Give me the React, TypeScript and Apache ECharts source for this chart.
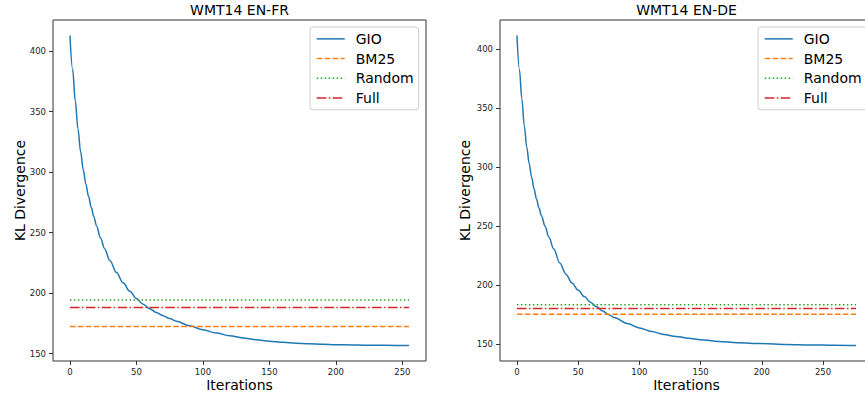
import React, { useEffect, useRef } from "react";
import * as echarts from "echarts";

const FONT = "DejaVu Sans";

const seriesNames = ["GIO", "BM25", "Random", "Full"];
const xTickValues = [0, 50, 100, 150, 200, 250];
const yTickValues = [150, 200, 250, 300, 350, 400];

// WMT14 EN-FR
const frIters = [0, 2, 4, 6, 8, 10, 12, 14, 16, 18, 20, 23, 26, 30, 35, 40, 45, 50, 55, 60, 65, 70, 75, 80, 90, 100, 110, 120, 130, 140, 150, 160, 170, 180, 190, 200, 215, 230, 245, 255];
const frGio = [413, 385, 359, 336, 317, 302, 290, 280, 271, 263, 255.5, 245.5, 237, 227, 217, 208.5, 201.5, 195.5, 190.8, 187, 184, 181.3, 179, 176.8, 173, 169.8, 167, 164.8, 163, 161.5, 160.3, 159.3, 158.6, 158.1, 157.7, 157.4, 157.1, 156.9, 156.8, 156.7];
const frBm25 = 172.4;
const frRandom = 194.3;
const frFull = 188.2;

// WMT14 EN-DE
const deIters = [0, 2, 4, 6, 8, 10, 12, 14, 16, 18, 20, 23, 26, 30, 35, 40, 45, 50, 55, 60, 65, 70, 75, 80, 90, 100, 110, 120, 130, 140, 150, 165, 180, 200, 220, 240, 260, 277];
const deGio = [411.5, 383, 358, 335, 317, 303, 291.5, 281.5, 273, 265.5, 259, 250, 241, 231, 219, 209.5, 202, 196, 190.5, 185.8, 181.8, 178.3, 175.2, 172.5, 167.8, 164, 161, 158.5, 156.8, 155.3, 154, 152.5, 151.5, 150.7, 150, 149.6, 149.3, 149.1];
const deBm25 = 175.5;
const deRandom = 183.5;
const deFull = 180.4;

const COLORS = { GIO: "#1f77b4", BM25: "#ff7f0e", Random: "#2ca02c", Full: "#d62728" };
const DASH = { BM25: [5.55, 2.4], Random: [1.5, 2.475], Full: [9.6, 2.4, 1.5, 2.4] };

function extent(vals: number[]) {
  const mn = Math.min(...vals);
  const mx = Math.max(...vals);
  const m = (mx - mn) * 0.05;
  return [mn - m, mx + m];
}

export default function App() {
  const ref = useRef<HTMLDivElement>(null);
  useEffect(() => {
    if (!ref.current) return;
    const chart = echarts.init(ref.current, undefined, { renderer: "svg" });

    const panels = [
      { title: "WMT14 EN-FR", iters: frIters, gio: frGio, bm25: frBm25, random: frRandom, full: frFull, left: 53, nameGap: 26 },
      { title: "WMT14 EN-DE", iters: deIters, gio: deGio, bm25: deBm25, random: deRandom, full: deFull, left: 500, nameGap: 28 },
    ];
    const gridW = 373;
    const gridH = 341;

    const grids: any[] = [];
    const xAxes: any[] = [];
    const yAxes: any[] = [];
    const series: any[] = [];
    const titles: any[] = [];
    const legends: any[] = [];

    panels.forEach((p, i) => {
      grids.push({
        left: p.left, top: 20, width: gridW, height: gridH, show: true,
        borderColor: "#333", borderWidth: 1, backgroundColor: "transparent",
        containLabel: false, outerBoundsMode: "none",
      });
      const xe = extent(p.iters);
      const ye = extent([...p.gio, p.bm25, p.random, p.full]);
      const tickLabel = { fontSize: 8.5, color: "#222", fontFamily: FONT };
      xAxes.push({
        type: "value", gridIndex: i, min: xe[0], max: xe[1],
        name: "Iterations", nameLocation: "middle", nameGap: 17, nameMoveOverlap: false,
        nameTextStyle: { fontSize: 14, color: "#000", fontFamily: FONT },
        axisLine: { show: false, onZero: false },
        axisTick: { show: true, length: 4, lineStyle: { color: "#333", width: 1 }, customValues: xTickValues },
        axisLabel: { ...tickLabel, margin: 6, customValues: xTickValues },
        splitLine: { show: false },
      });
      yAxes.push({
        type: "value", gridIndex: i, min: ye[0], max: ye[1],
        name: "KL Divergence", nameLocation: "middle", nameGap: p.nameGap, nameMoveOverlap: false,
        nameTextStyle: { fontSize: 14, color: "#000", fontFamily: FONT },
        axisLine: { show: false, onZero: false },
        axisTick: { show: true, length: 4, lineStyle: { color: "#333", width: 1 }, customValues: yTickValues },
        axisLabel: { ...tickLabel, margin: 7, customValues: yTickValues },
        splitLine: { show: false },
      });
      const x0 = p.iters[0];
      const x1 = p.iters[p.iters.length - 1];
      series.push({
        name: "GIO", type: "line", xAxisIndex: i, yAxisIndex: i, symbol: "none",
        smooth: 0.35, smoothMonotone: "x",
        data: p.iters.map((x, k) => [x, p.gio[k]]),
        lineStyle: { color: COLORS.GIO, width: 1.5 }, itemStyle: { color: COLORS.GIO },
      });
      const flat: [string, number][] = [["BM25", p.bm25], ["Random", p.random], ["Full", p.full]];
      flat.forEach(([n, v]) => {
        series.push({
          name: n, type: "line", xAxisIndex: i, yAxisIndex: i, symbol: "none",
          data: [[x0, v], [x1, v]],
          lineStyle: { color: (COLORS as any)[n], width: 1.5, type: (DASH as any)[n] },
          itemStyle: { color: (COLORS as any)[n] },
        });
      });
      titles.push({
        text: p.title, left: p.left + gridW / 2, top: 3, textAlign: "center", padding: 0,
        textStyle: { fontSize: 14, fontWeight: "normal", color: "#000", fontFamily: FONT },
      });
      legends.push({
        orient: "vertical", left: i === 0 ? 310 : 758, top: 27,
        padding: [2, 5, 2, 6], itemGap: 0, itemWidth: 28, itemHeight: 14,
        backgroundColor: "rgba(255,255,255,0.8)", borderColor: "#cccccc", borderWidth: 1, borderRadius: 3,
        itemStyle: { opacity: 0 },
        lineStyle: { width: 1.5 },
        textStyle: { fontSize: 14, color: "#000", fontFamily: FONT, lineHeight: 19.7, padding: [0, 0, 0, 6] },
        data: seriesNames,
        selectedMode: false,
      });
    });

    chart.setOption({
      animation: false,
      backgroundColor: "#fff",
      textStyle: { fontFamily: FONT },
      title: titles,
      legend: legends,
      grid: grids,
      xAxis: xAxes,
      yAxis: yAxes,
      series,
    });
    return () => chart.dispose();
  }, []);
  return <div ref={ref} style={{ position: "fixed", left: 0, top: 0, width: 865, height: 393 }} />;
}
